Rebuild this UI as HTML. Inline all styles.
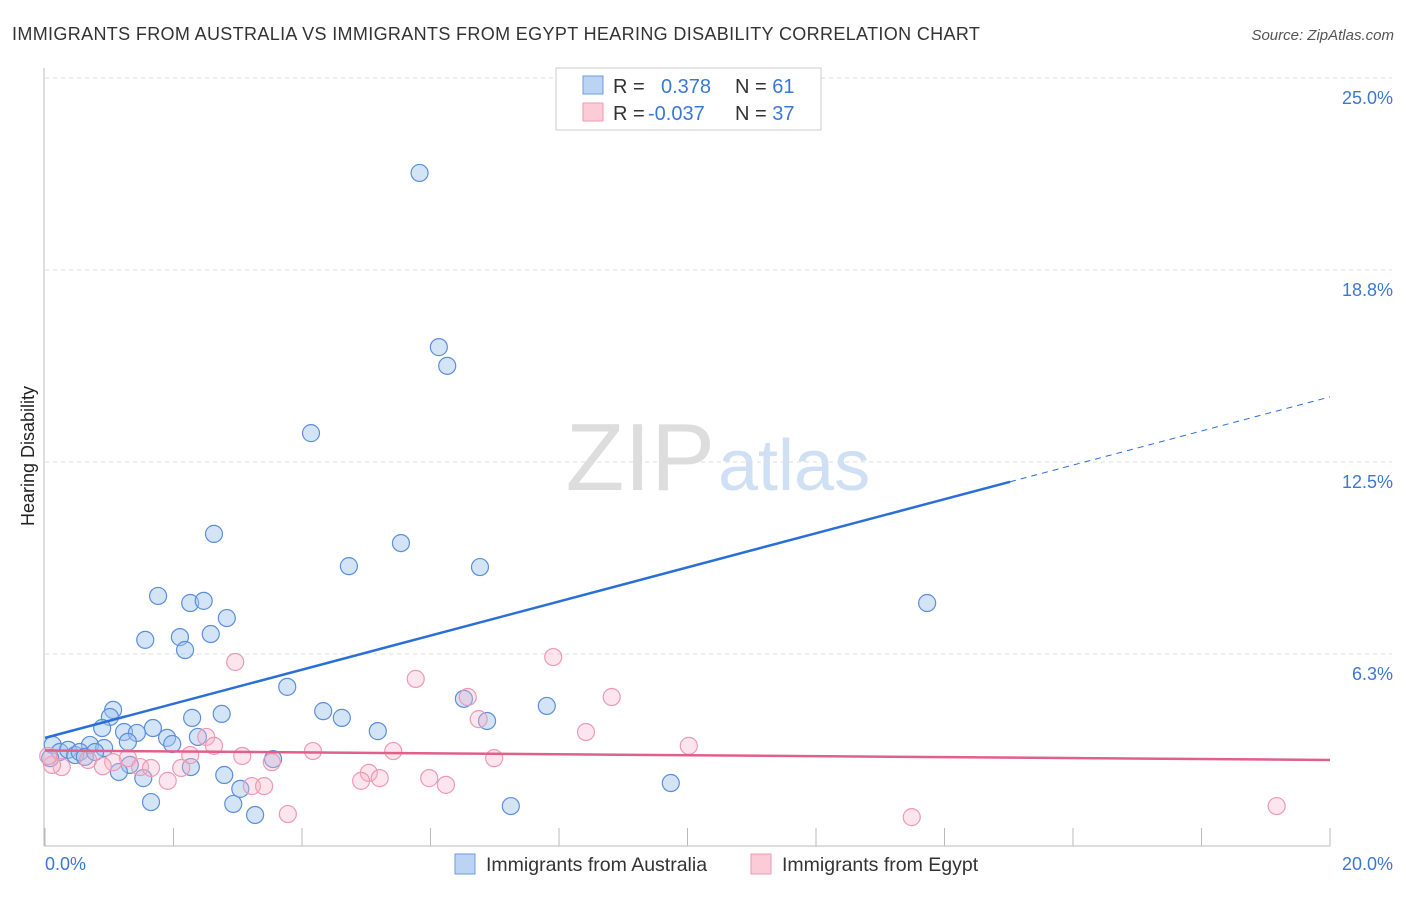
<!DOCTYPE html>
<html><head><meta charset="utf-8"><style>
body{margin:0;background:#fff;font-family:"Liberation Sans",sans-serif}
svg text{font-family:"Liberation Sans",sans-serif}
</style></head><body>
<svg width="1406" height="892" xmlns="http://www.w3.org/2000/svg">
<text x="12" y="40" font-size="18" fill="#333" letter-spacing="0.35">IMMIGRANTS FROM AUSTRALIA VS IMMIGRANTS FROM EGYPT HEARING DISABILITY CORRELATION CHART</text>
<text x="1394" y="40" font-size="15" fill="#555" text-anchor="end" font-style="italic">Source: ZipAtlas.com</text>
<text x="715" y="490" font-size="96" fill="#ddd" text-anchor="end" font-family="Liberation Serif">ZIP</text>
<text x="718" y="490" font-size="72" fill="#cfe0f5">atlas</text>
<g id="grid"></g><g id="axes"></g><g id="marks"></g>
<text x="34" y="456" font-size="18" fill="#222" text-anchor="middle" transform="rotate(-90 34 456)">Hearing Disability</text>
<g>
<rect x="556" y="68" width="265" height="62" fill="#fff" stroke="#ccc"/>
<rect x="583" y="76" width="20" height="18" fill="#bcd4f4" stroke="#6a9be0"/>
<rect x="583" y="103" width="20" height="18" fill="#fbccd8" stroke="#ee9ab2"/>
<text x="613" y="93" font-size="20" fill="#333">R = <tspan fill="#3a78d6" x="661">0.378</tspan><tspan fill="#333" x="735">N = </tspan><tspan fill="#3a78d6">61</tspan></text>
<text x="613" y="120" font-size="20" fill="#333">R = <tspan fill="#3a78d6" x="648">-0.037</tspan><tspan fill="#333" x="735">N = </tspan><tspan fill="#3a78d6">37</tspan></text>
</g>
<g>
<rect x="455" y="854" width="20" height="20" fill="#bcd4f4" stroke="#6a9be0"/>
<text x="486" y="871" font-size="19.5" fill="#333">Immigrants from Australia</text>
<rect x="751" y="854" width="20" height="20" fill="#fbccd8" stroke="#ee9ab2"/>
<text x="782" y="871" font-size="19.5" fill="#333">Immigrants from Egypt</text>
</g>
</svg>
<script>
const yTicks=[25.0,18.8,12.5,6.3];
const yTickLabels=["25.0%","18.8%","12.5%","6.3%"];
const xTicks=[0,2,4,6,8,10,12,14,16,18,20];
const xEndLabels=["0.0%","20.0%"];
const ausX=[5.83,6.13,6.26,4.14,2.63,5.54,4.73,6.77,13.73,1.76,2.26,2.47,2.83,1.56,2.10,2.58,2.18,3.77,6.52,7.81,4.33,4.62,6.88,1.06,1.01,2.29,2.75,0.89,1.23,1.68,1.43,5.18,1.90,1.98,2.38,1.29,0.70,0.92,3.55,0.12,0.23,0.36,0.47,0.54,0.62,0.08,0.78,1.32,2.27,1.15,1.53,2.79,9.74,3.04,1.65,2.93,7.25,3.27];
const ausY=[21.91,16.24,15.63,13.44,10.16,9.86,9.11,9.08,7.91,8.14,7.91,7.98,7.42,6.71,6.80,6.90,6.38,5.18,4.79,4.56,4.39,4.17,4.07,4.43,4.20,4.17,4.30,3.84,3.71,3.84,3.68,3.74,3.52,3.32,3.55,3.39,3.29,3.19,2.83,3.29,3.06,3.13,2.96,3.06,2.90,2.86,3.06,2.64,2.57,2.41,2.21,2.31,2.05,1.86,1.43,1.37,1.30,1.01];
const egyX=[2.96,7.91,5.77,6.58,8.82,6.75,8.42,2.51,2.63,10.02,4.17,5.42,3.07,2.26,6.99,3.53,1.29,1.48,1.65,2.12,1.06,0.90,0.67,0.26,0.11,0.05,5.04,5.21,4.92,5.98,6.24,1.91,3.22,3.41,3.78,13.49,19.17];
const egyY=[5.99,6.15,5.44,4.85,4.85,4.13,3.71,3.55,3.26,3.26,3.09,3.09,2.93,2.96,2.86,2.73,2.86,2.57,2.54,2.54,2.73,2.60,2.80,2.57,2.64,2.93,2.38,2.21,2.12,2.21,1.99,2.12,1.95,1.95,1.04,0.94,1.30];
const ausTrend=[3.52,0.555];
const egyTrend=[3.11,-0.0155];
const ausSolidEnd=15.02;

const NS="http://www.w3.org/2000/svg";
const X=v=>45+v/20*1285;
const Y=v=>846-v/6.25*192;
function mk(tag,attrs,parent){const e=document.createElementNS(NS,tag);for(const k in attrs)e.setAttribute(k,attrs[k]);document.getElementById(parent).appendChild(e);return e;}
yTicks.forEach((t,i)=>{
  const yy=Y(t===25.0?25:t===18.8?18.75:t===12.5?12.5:6.25);
  const l=mk('line',{x1:45,x2:1392,y1:yy,y2:yy,stroke:'#ddd','stroke-dasharray':'4,4'},'grid');
  
  
  const tx=mk('text',{x:1393,y:yy+26,'font-size':18,fill:'#3a78d6','text-anchor':'end'},'axes');
  tx.textContent=yTickLabels[i];
  
  
});
const ax=mk('line',{x1:44,x2:44,y1:68,y2:846,stroke:'#bbb'},'axes');


const bx=mk('line',{x1:44,x2:1330,y1:846,y2:846,stroke:'#bbb'},'axes');


xTicks.forEach(t=>{
  const l=mk('line',{x1:X(t),x2:X(t),y1:828,y2:846,stroke:'#bbb'},'axes');
  
  
});
const xl0=mk('text',{x:45,y:870,'font-size':18,fill:'#3a78d6'},'axes');xl0.textContent=xEndLabels[0];


const xl1=mk('text',{x:1393,y:870,'font-size':18,fill:'#3a78d6','text-anchor':'end'},'axes');xl1.textContent=xEndLabels[1];


ausX.forEach((v,i)=>{
  const c=mk('circle',{cx:X(v),cy:Y(ausY[i]),r:8.5,fill:'rgba(160,195,238,0.45)',stroke:'#5b8fd9','stroke-width':1.2},'marks');
  
  
});
egyX.forEach((v,i)=>{
  const c=mk('circle',{cx:X(v),cy:Y(egyY[i]),r:8.5,fill:'rgba(245,180,200,0.35)',stroke:'#ec9ab4','stroke-width':1.2},'marks');
  
  
});
const at=x=>ausTrend[0]+ausTrend[1]*x;
const t1=mk('line',{x1:X(0),y1:Y(at(0)),x2:X(ausSolidEnd),y2:Y(at(ausSolidEnd)),stroke:'#2a6fd6','stroke-width':2.5},'marks');


const t2=mk('line',{x1:X(ausSolidEnd),y1:Y(at(ausSolidEnd)),x2:X(20),y2:Y(at(20)),stroke:'#2a6fd6','stroke-width':1,'stroke-dasharray':'6,5'},'marks');


const et=x=>egyTrend[0]+egyTrend[1]*x;
const t3=mk('line',{x1:X(0),y1:Y(et(0)),x2:X(20),y2:Y(et(20)),stroke:'#e0608a','stroke-width':2.5},'marks');


</script>
</body></html>
